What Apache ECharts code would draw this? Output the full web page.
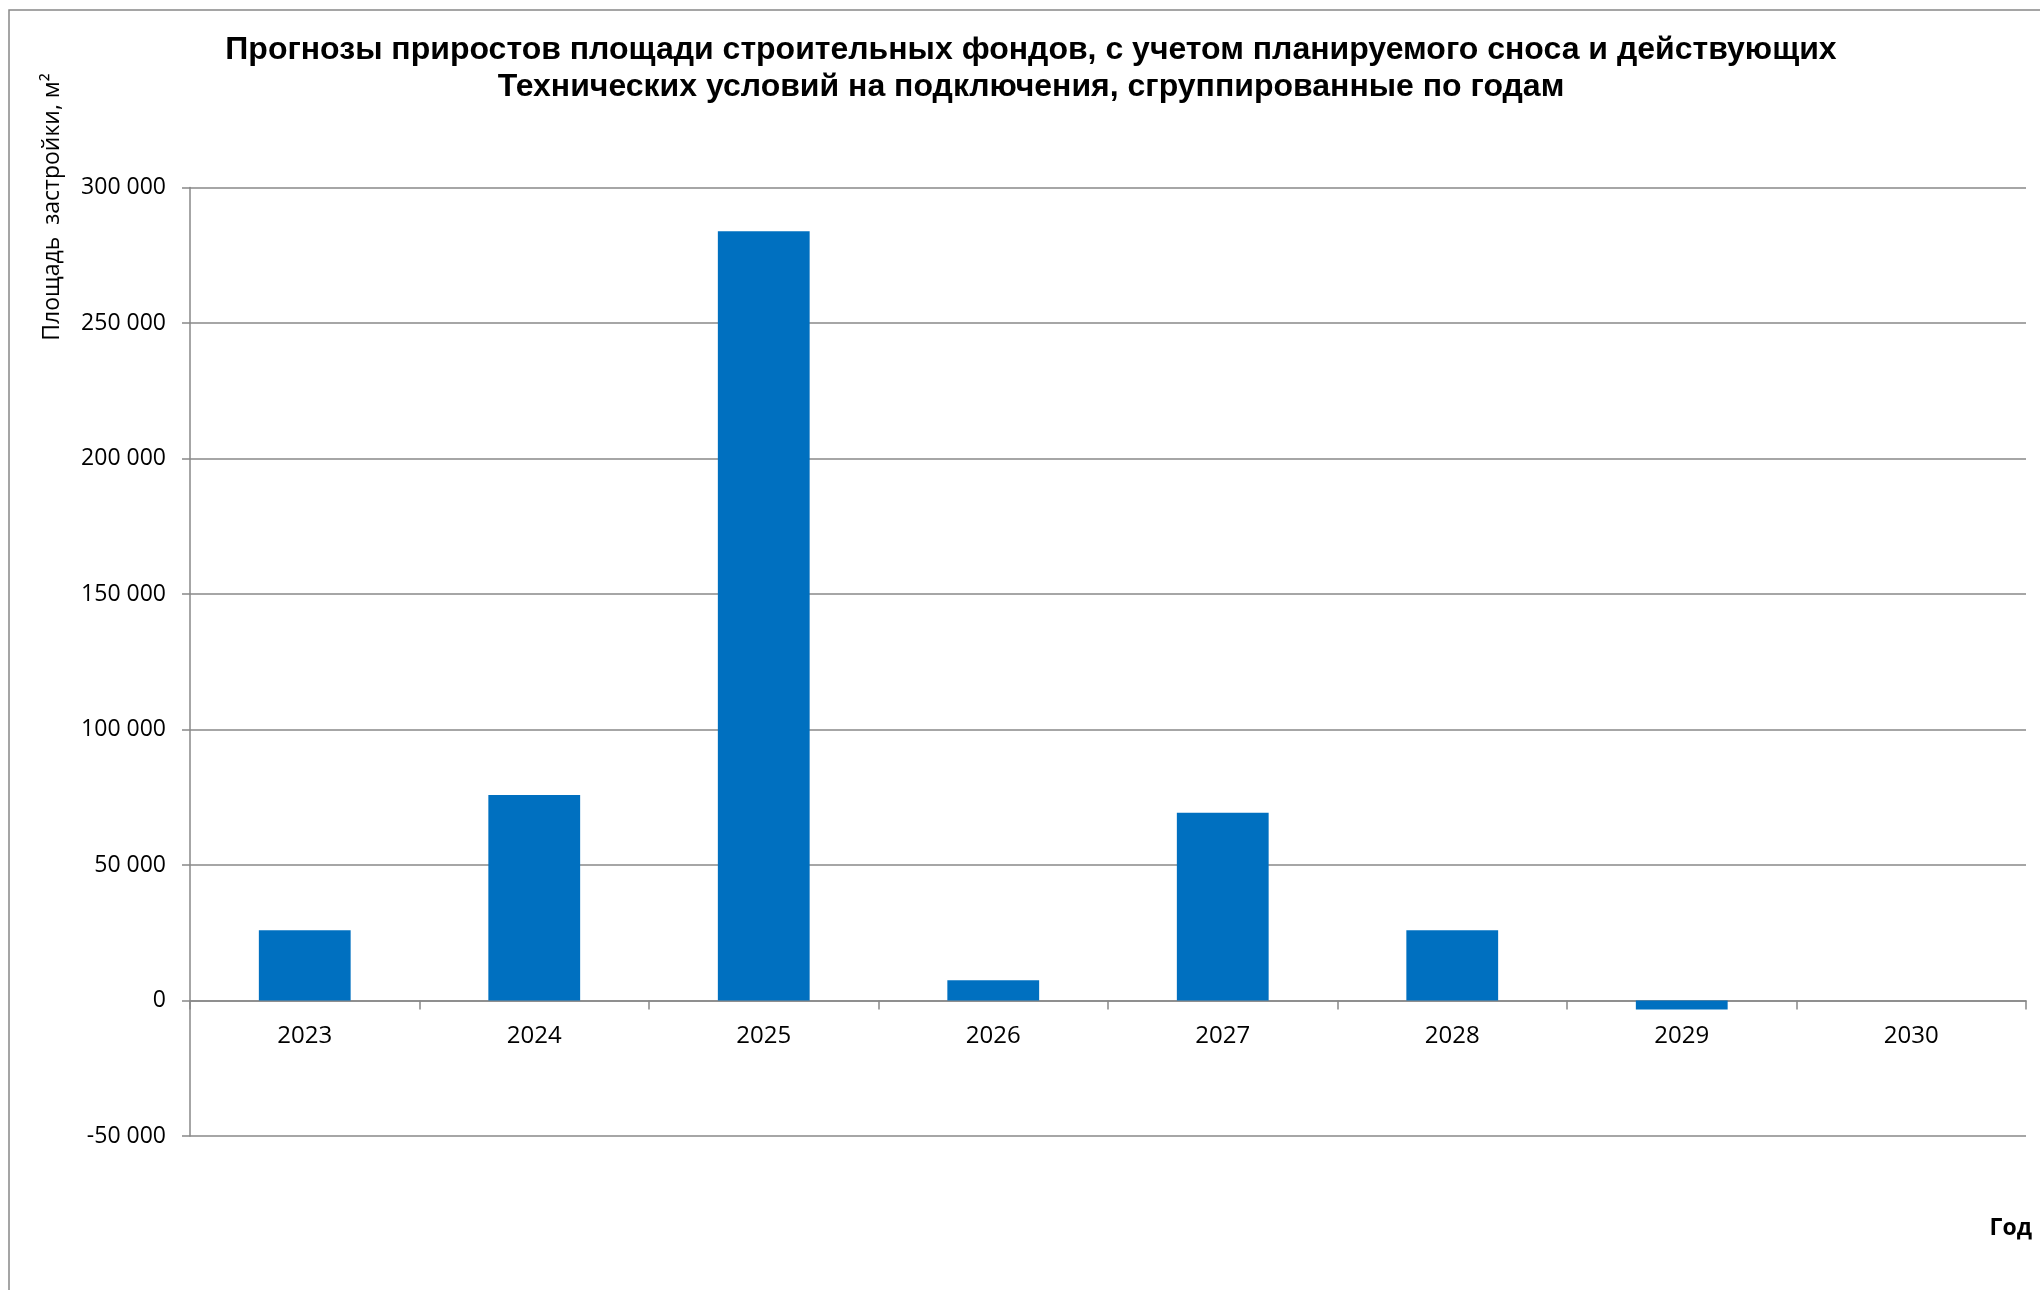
<!DOCTYPE html>
<html>
<head>
<meta charset="utf-8">
<script src="https://cdn.jsdelivr.net/npm/echarts@6/dist/echarts.min.js"></script>
<style>
html,body{margin:0;padding:0;background:#fff;}
#chart{width:2040px;height:1290px;}
</style>
</head>
<body>
<div id="chart"></div>
<script>
const categories = ['2023','2024','2025','2026','2027','2028','2029','2030'];
const values = [25900, 75800, 283900, 7500, 69300, 25900, -3300, 0];
const yTicks = { min: -50000, max: 300000, interval: 50000 };
const titleLines = ['Прогнозы приростов площади строительных фондов, с учетом планируемого сноса и действующих',
                    'Технических условий на подключения, сгруппированные по годам'];
const yAxisName = 'Площадь  застройки, м²';
const xAxisName = 'Год';

const gray = '#888888';
const gridTop = 187.5, gridBottom = 154, H = 1290;
const plotH = H - gridTop - gridBottom;
// place category axis at the zero line (labels follow it)
const zeroOffset = -plotH * (0 - yTicks.min) / (yTicks.max - yTicks.min);

const chart = echarts.init(document.getElementById('chart'));
chart.setOption({
  animation: false,
  backgroundColor: '#ffffff',
  title: {
    text: titleLines.join('\n'),
    left: 1026, top: 27,
    textAlign: 'center',
    textStyle: { fontFamily: 'Liberation Sans', fontWeight: 'bold', fontSize: 32, lineHeight: 37, color: '#000' }
  },
  grid: { left: 190, right: 14, top: gridTop, bottom: gridBottom, containLabel: false },
  xAxis: {
    type: 'category',
    data: categories,
    offset: zeroOffset,
    axisLine: { onZero: false, lineStyle: { color: gray, width: 1.5 } },
    axisTick: { show: true, length: 9, lineStyle: { color: gray, width: 1.5 } },
    axisLabel: { margin: 24, fontFamily: 'Open Sans', fontSize: 24, color: '#000' },
    splitLine: { show: false }
  },
  yAxis: {
    type: 'value',
    min: yTicks.min, max: yTicks.max, interval: yTicks.interval,
    axisLine: { show: true, lineStyle: { color: gray, width: 1.5 } },
    axisTick: { show: true, length: 8, lineStyle: { color: gray, width: 1.5 } },
    axisLabel: {
      margin: 24, fontFamily: 'Open Sans', fontSize: 23, color: '#000',
      formatter: v => String(v).replace(/\B(?=(\d{3})+(?!\d))/g, ' ')
    },
    splitLine: { show: true, lineStyle: { color: gray, width: 1.5 } }
  },
  series: [{
    type: 'bar',
    data: values,
    barWidth: '40%',
    itemStyle: { color: '#0070C0' }
  }],
  graphic: [
    { type: 'rect', shape: { x: 9, y: 10, width: 2200, height: 1500 }, style: { fill: 'none', stroke: gray, lineWidth: 1.5 }, silent: true },
    { type: 'text', x: 52, y: 207, rotation: Math.PI / 2,
      style: { text: yAxisName, fontFamily: 'Open Sans', fontSize: 23, fill: '#000', textAlign: 'center', textVerticalAlign: 'middle' } },
    { type: 'text', x: 2032, y: 1228,
      style: { text: xAxisName, fontFamily: 'Open Sans', fontWeight: 'bold', fontSize: 23, fill: '#000', textAlign: 'right', textVerticalAlign: 'middle' } }
  ]
});
</script>
</body>
</html>
